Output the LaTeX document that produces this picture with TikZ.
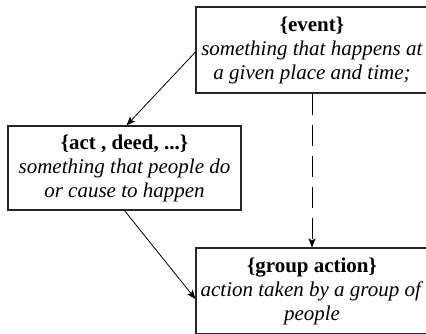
\documentclass[tikz,border=0pt]{standalone}
\usepackage{fontspec}
\setmainfont{Liberation Serif}
\usetikzlibrary{arrows.meta}
\begin{document}
\begin{tikzpicture}[x=1pt,y=1pt,
  box/.style={draw=black!85, line width=1.1pt, fill=white, align=center,
    minimum width=232pt, inner sep=0pt,
    font=\fontsize{21pt}{24pt}\selectfont},
  conn/.style={line width=0.8pt, -{Stealth[length=9pt,width=7pt,inset=2pt]}},
  dashconn/.style={conn, dash pattern=on 21pt off 10pt}]
\clip (0,0) rectangle (426,334);
\useasboundingbox (0,0) rectangle (426,334);
\node[box, minimum height=86pt] (event) at (312,284)
  {\textbf{\{event\}}\\ \textit{something that happens at}\\ \textit{a given place and time;}};
\node[box, minimum width=233pt, minimum height=84pt] (act) at (124.5,166)
  {\textbf{\{act , deed, ...\}}\\ \textit{something that people do}\\ \textit{or cause to happen}};
\node[box, minimum height=86pt] (group) at (312,43)
  {\textbf{\{group action\}}\\ \textit{action taken by a group of}\\ \textit{people}};
\draw[conn] ([yshift=-2pt]event.west) -- ([xshift=2pt]act.north);
\draw[conn] (act.south) -- ([yshift=-8pt]group.west);
\draw[dashconn] (event.south) -- (group.north);
\end{tikzpicture}
\end{document}
